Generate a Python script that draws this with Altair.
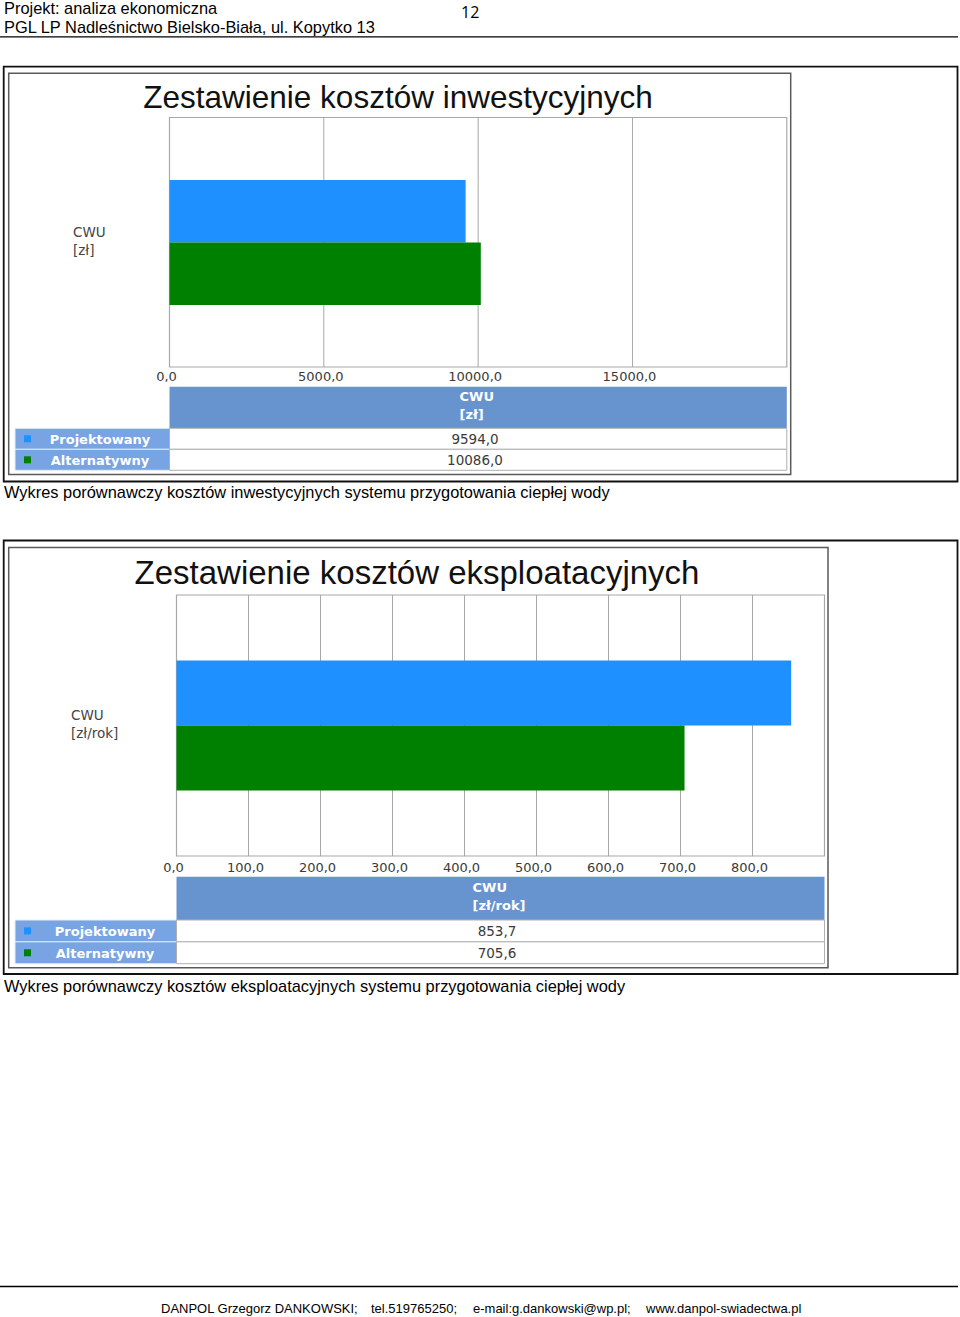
import altair as alt
import pandas as pd

# ---------------- data ----------------
series = ["Projektowany", "Alternatywny"]
series_colors = ["#1E90FF", "#008000"]

inv_values = [9594.0, 10086.0]
inv_ticks = [0, 5000, 10000, 15000]
inv_tick_labels = ["0,0", "5000,0", "10000,0", "15000,0"]
inv_max = 20000

exp_values = [853.7, 705.6]
exp_ticks = [0, 100, 200, 300, 400, 500, 600, 700, 800]
exp_tick_labels = ["0,0", "100,0", "200,0", "300,0", "400,0", "500,0", "600,0", "700,0", "800,0"]
exp_max = 900

header_lines = ["Projekt: analiza ekonomiczna", "PGL LP Nadleśnictwo Bielsko-Biała, ul. Kopytko 13"]
page_number = "12"
inv_title = "Zestawienie kosztów inwestycyjnych"
exp_title = "Zestawienie kosztów eksploatacyjnych"
inv_unit = ["CWU", "[zł]"]
exp_unit = ["CWU", "[zł/rok]"]
inv_caption = "Wykres porównawczy kosztów inwestycyjnych systemu przygotowania ciepłej wody"
exp_caption = "Wykres porównawczy kosztów eksploatacyjnych systemu przygotowania ciepłej wody"
footer_parts = ["DANPOL Grzegorz DANKOWSKI;", "tel.519765250;", "e-mail:g.dankowski@wp.pl;", "www.danpol-swiadectwa.pl"]


def fmt(v):
    return f"{v:.1f}".replace(".", ",")


SANS = "Liberation Sans"
PIX = "DejaVu Sans"
GRID = "#a8a8a8"
HEAD_BG = "#6793CF"
LABEL_BG = "#78A4E4"

DUMMY = alt.Data(values=[{"k": 0}])


def rect(x1, y1, x2, y2, fill=None, stroke=None, sw=1.0):
    kw = {}
    if fill:
        kw["fill"] = fill
        kw["fillOpacity"] = 1
    else:
        kw["fillOpacity"] = 0
    if stroke:
        kw["stroke"] = stroke
        kw["strokeWidth"] = sw
    return alt.Chart(DUMMY).mark_rect(**kw).encode(
        x=alt.value(x1), x2=alt.value(x2), y=alt.value(y1), y2=alt.value(y2)
    )


def text(x, y, s, size=13, font=PIX, color="#333333", align="left", weight="normal"):
    return alt.Chart(DUMMY).mark_text(
        align=align, baseline="alphabetic", font=font, fontSize=size,
        color=color, fontWeight=weight
    ).encode(x=alt.value(x), y=alt.value(y), text=alt.value(s))


def hline(x1, x2, y, color="#000000", sw=1.2):
    return alt.Chart(DUMMY).mark_rule(color=color, strokeWidth=sw).encode(
        x=alt.value(x1), x2=alt.value(x2), y=alt.value(y)
    )


def panel(values, ticks, tick_labels, dmax, title, unit, box):
    b = box
    df = pd.DataFrame({"series": series, "value": values, "label": [fmt(v) for v in values]})
    tdf = pd.DataFrame({"t": ticks, "lab": tick_labels})
    xs = alt.Scale(domain=[0, dmax], range=[b["px0"], b["px1"]], nice=False, zero=True)
    ybar = alt.Scale(type="band", domain=series, range=[b["by0"], b["by1"]], paddingInner=0, paddingOuter=0)
    yrow = alt.Scale(type="band", domain=series, range=[b["ry0"], b["ry1"]], paddingInner=0, paddingOuter=0)
    cs = alt.Scale(domain=series, range=series_colors)
    layers = [
        rect(3.7, b["oy0"], 957.5, b["oy1"], stroke="#111111", sw=1.8),
        rect(8.7, b["iy0"], b["ix1"], b["iy1"], stroke="#5a5a5a", sw=1.5),
        text(b["tx"], b["ty"], title, b["tfs"], SANS, "#111111", "center"),
        rect(b["px0"], b["py0"], b["px1"], b["py1"], fill="#ffffff", stroke=GRID, sw=1.2),
        alt.Chart(tdf).mark_rule(color=GRID, strokeWidth=1).encode(
            x=alt.X("t:Q", scale=xs, axis=None), y=alt.value(b["py0"]), y2=alt.value(b["py1"])
        ),
        alt.Chart(df).mark_bar(strokeWidth=0).encode(
            x=alt.X("value:Q", scale=xs, axis=None),
            y=alt.Y("series:N", scale=ybar, axis=None),
            color=alt.Color("series:N", scale=cs, legend=None),
        ),
        alt.Chart(tdf).mark_text(
            align="center", baseline="alphabetic", font=PIX, fontSize=13, color="#3a3a3a", dx=-3
        ).encode(x=alt.X("t:Q", scale=xs, axis=None), y=alt.value(b["tky"]), text="lab:N"),
        text(b["ulx"], b["uly"], unit[0], 13.5, PIX, "#444444"),
        text(b["ulx"], b["uly"] + 18, unit[1], 13.5, PIX, "#444444"),
        rect(b["px0"], b["hy0"], b["px1"], b["ry0"], fill=HEAD_BG),
        text(b["hx"], b["hty"], unit[0], 13, PIX, "#ffffff", weight="bold"),
        text(b["hx"], b["hty"] + 18, unit[1], 13, PIX, "#ffffff", weight="bold"),
        alt.Chart(df).mark_rect(fill=LABEL_BG, stroke="#e4ebf7", strokeWidth=1).encode(
            x=alt.value(15), x2=alt.value(b["px0"]), y=alt.Y("series:N", scale=yrow, axis=None)
        ),
        alt.Chart(df).mark_rect(fill="#ffffff", stroke="#b0b0b0", strokeWidth=1).encode(
            x=alt.value(b["px0"]), x2=alt.value(b["px1"]), y=alt.Y("series:N", scale=yrow, axis=None)
        ),
        alt.Chart(df).mark_square(size=49, opacity=1, filled=True).encode(
            x=alt.value(27.5),
            y=alt.Y("series:N", scale=yrow, axis=None),
            color=alt.Color("series:N", scale=cs, legend=None),
        ),
        alt.Chart(df).mark_text(
            align="center", baseline="middle", font=PIX, fontSize=13, fontWeight="bold", color="#ffffff", dy=1
        ).encode(x=alt.value(b["lx"]), y=alt.Y("series:N", scale=yrow, axis=None), text="series:N"),
        alt.Chart(df).mark_text(
            align="center", baseline="middle", font=PIX, fontSize=13.5, color="#3a3a3a", dy=1
        ).encode(x=alt.value(b["vx"]), y=alt.Y("series:N", scale=yrow, axis=None), text="label:N"),
    ]
    return layers


inv_box = dict(oy0=66.7, oy1=481.5, iy0=73.3, iy1=474.5, ix1=790.7, tx=398, ty=108, tfs=31.5,
               px0=169.5, px1=786.8, py0=117.5, py1=367, by0=180, by1=305, tky=381,
               ulx=73, uly=237, hy0=386.7, hx=459.5, hty=401, ry0=428.3, ry1=470.3,
               lx=100, vx=475)
exp_box = dict(oy0=540.5, oy1=974, iy0=547.5, iy1=967.7, ix1=828, tx=417, ty=584, tfs=33,
               px0=176.5, px1=824.5, py0=595, py1=856, by0=660.5, by1=790.5, tky=872,
               ulx=71, uly=720, hy0=876.7, hx=472.5, hty=892, ry0=920, ry1=963.7,
               lx=105, vx=497)

layers = [
    rect(0, 0, 960, 1317, fill="#ffffff"),
    text(4, 14, header_lines[0], 16.4, SANS, "#000000"),
    text(4, 33, header_lines[1], 16.4, SANS, "#000000"),
    text(461, 18, page_number, 16, "Open Sans", "#000000"),
    hline(0, 958, 36.8, "#000000", 1.3),
]
layers += panel(inv_values, inv_ticks, inv_tick_labels, inv_max, inv_title, inv_unit, inv_box)
layers.append(text(4, 498, inv_caption, 16.4, SANS, "#000000"))
layers += panel(exp_values, exp_ticks, exp_tick_labels, exp_max, exp_title, exp_unit, exp_box)
layers.append(text(4, 992, exp_caption, 16.4, SANS, "#000000"))
layers.append(hline(0, 958, 1286.5, "#000000", 1.3))
for xpos, part in zip([161, 371, 473, 646], footer_parts):
    layers.append(text(xpos, 1313, part, 13, SANS, "#000000"))

chart = alt.layer(*layers).resolve_scale(
    x="independent", y="independent", color="independent"
).properties(
    width=960, height=1317, padding=0, background="#ffffff",
    autosize=alt.AutoSizeParams(type="none"),
).configure_view(stroke=None)

chart.save("out.html", embed_options={"renderer": "svg", "actions": False})
